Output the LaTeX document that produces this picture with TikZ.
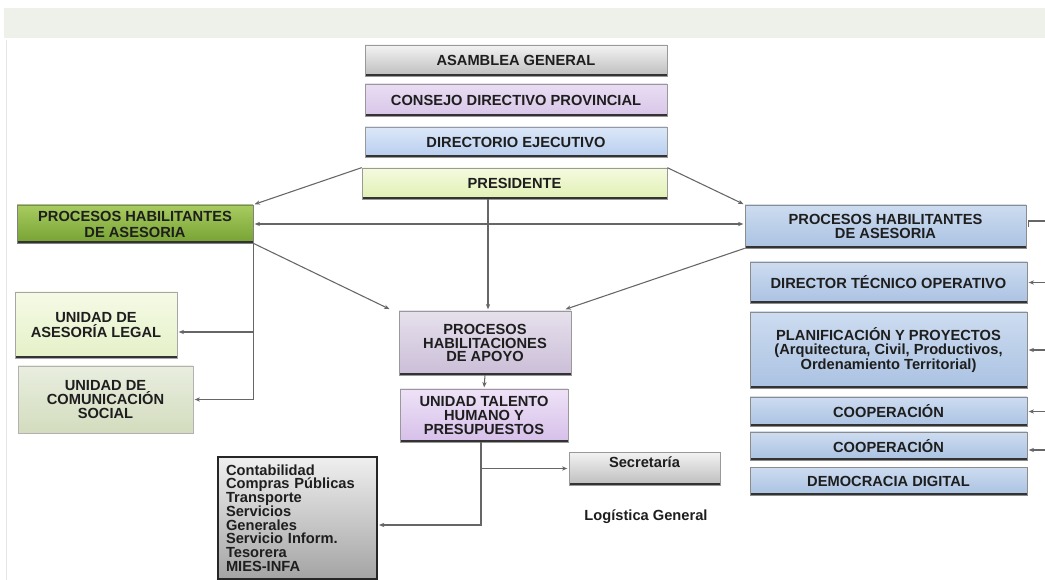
\documentclass[tikz,border=0pt]{standalone}
\usepackage{fontspec}
\setmainfont{Liberation Sans}
\usetikzlibrary{arrows.meta,calc}

\definecolor{band}{HTML}{EEF0EA}
\definecolor{ink}{HTML}{1E1E1E}
\definecolor{wire}{HTML}{666666}
\definecolor{grayT}{HTML}{F3F3F3}
\definecolor{grayB}{HTML}{BDBDBD}
\definecolor{lilaT}{HTML}{E9DDF3}
\definecolor{lilaB}{HTML}{D9C6E8}
\definecolor{skyT}{HTML}{DCE8F8}
\definecolor{skyB}{HTML}{B7CDEE}
\definecolor{limeT}{HTML}{F4FADF}
\definecolor{limeB}{HTML}{E1F0B3}
\definecolor{leafT}{HTML}{A8CB60}
\definecolor{leafB}{HTML}{76A233}
\definecolor{steelT}{HTML}{CDDCF0}
\definecolor{steelB}{HTML}{AAC2E2}
\definecolor{mauveT}{HTML}{E6E0EC}
\definecolor{mauveB}{HTML}{CBBED8}
\definecolor{violT}{HTML}{EEE2F7}
\definecolor{violB}{HTML}{D6BFE9}
\definecolor{paleT}{HTML}{F5FAE6}
\definecolor{paleB}{HTML}{E5F1C8}
\definecolor{sageT}{HTML}{E9EEDF}
\definecolor{sageB}{HTML}{D3DCBE}
\definecolor{listT}{HTML}{EFEFEF}
\definecolor{listB}{HTML}{A4A4A4}

\tikzset{
  org/.style={draw=black!40, line width=0.5pt, inner sep=1pt, align=center,
    text=ink, font=\bfseries\fontsize{11}{10.2}\selectfont,
    path picture={\draw[line width=2.6pt, black!80]
      (path picture bounding box.south west) -- (path picture bounding box.south east);}},
  sz/.style 2 args={minimum width=#1*0.75pt, minimum height=#2*0.75pt},
  grad/.style 2 args={top color=#1, bottom color=#2},
  graybox/.style={org, grad={grayT}{grayB}},
  bluebox/.style={org, draw=black!45, grad={steelT}{steelB}},
  link/.style={draw=wire, line width=0.8pt},
  arr/.style={link, -{Stealth[length=4pt,width=3.2pt]}, shorten >=1pt},
  darr/.style={link, {Stealth[length=4pt,width=3.2pt]}-{Stealth[length=4pt,width=3.2pt]}, shorten >=1pt, shorten <=1pt},
}

\begin{document}
\begin{tikzpicture}[x=0.75pt, y=-0.75pt]
\useasboundingbox (0,0) rectangle (1045,580);
\fill[white] (0,0) rectangle (1045,580);

% header strip and faint page edge
\fill[band] (4,8) rectangle (1045,38);
\draw[black!10, line width=0.6pt] (6,40) -- (6,580);

% governing bodies
\node[graybox, sz={302}{31}] (asamblea) at (516,60.5) {ASAMBLEA GENERAL};
\node[org, sz={302}{32}, grad={lilaT}{lilaB}] (consejo) at (516,100) {CONSEJO DIRECTIVO PROVINCIAL};
\node[org, sz={302}{30}, grad={skyT}{skyB}] (directorio) at (516,142) {DIRECTORIO EJECUTIVO};
\node[org, sz={305}{31}, grad={limeT}{limeB}] (presidente) at (514.5,183.5) {PRESIDENTE};

% advisory processes
\node[org, sz={236}{38}, draw=black!50, grad={leafT}{leafB},
      font=\bfseries\fontsize{11}{12}\selectfont] (leftproc) at (135,224)
      {PROCESOS HABILITANTES\\DE ASESORIA};
\node[bluebox, sz={281}{43}] (rightproc) at (885.5,226.5) {PROCESOS HABILITANTES\\DE ASESORIA};

% operative units (right column)
\node[bluebox, sz={277}{41}] (director) at (888.5,282.5) {DIRECTOR TÉCNICO OPERATIVO};
\node[bluebox, sz={277}{76}] (planif) at (888.5,350)
      {PLANIFICACIÓN Y PROYECTOS\\(Arquitectura, Civil, Productivos,\\Ordenamiento Territorial)};
\node[bluebox, sz={277}{29}] (coopa) at (888.5,411.5) {COOPERACIÓN};
\node[bluebox, sz={277}{28}] (coopb) at (888.5,446) {COOPERACIÓN};
\node[bluebox, sz={277}{28}] (democ) at (888.5,481) {DEMOCRACIA DIGITAL};

% support processes
\node[org, sz={172}{64}, grad={mauveT}{mauveB}] (apoyo) at (485,343)
      {PROCESOS\\HABILITACIONES\\DE APOYO};
\node[org, sz={168}{53}, grad={violT}{violB}] (talento) at (484,415.5)
      {UNIDAD TALENTO\\HUMANO Y\\PRESUPUESTOS};

% advisory units (left column)
\node[org, sz={162}{66}, draw=black!35, grad={paleT}{paleB},
      font=\bfseries\fontsize{11}{11.2}\selectfont] (legal) at (96,325)
      {UNIDAD DE\\ASESORÍA LEGAL};
\node[org, sz={175}{67}, draw=black!30, grad={sageT}{sageB},
      path picture={}] (comun) at (105.5,399.5)
      {UNIDAD DE\\COMUNICACIÓN\\SOCIAL};

% logistics
\node[draw=black!85, line width=1pt, sz={159}{122}, grad={listT}{listB},
      align=left, text width=143*0.75pt, inner sep=0pt, text=ink,
      font=\bfseries\fontsize{11}{10.3}\selectfont] (lista) at (297.5,518)
      {Contabilidad\\Compras Públicas\\Transporte\\Servicios\\Generales\\Servicio Inform.\\Tesorera\\MIES-INFA};
\node[graybox, sz={151}{33}, text height=8pt, text depth=10.2pt] (secretaria) at (644.5,468.5) {Secretaría};
\node[text=ink, font=\bfseries\fontsize{11}{12}\selectfont] (logistica) at (646,517) {Logística General};

% connectors from the president
\draw[arr] (presidente.north west) -- (leftproc.north east);
\draw[arr] (presidente.north east) -- (rightproc.north west);
\draw[darr] (leftproc.east) -- (leftproc.east -| rightproc.west);
\draw[arr] ($(presidente.south -| apoyo.north)+(3,0)$) -- ($(apoyo.north)+(3,0)$);
\draw[arr] (leftproc.south east) -- ($(apoyo.north west)+(-8,-1)$);
\draw[arr] (rightproc.south west) -- ($(apoyo.north east)+(-7,-1)$);

% advisory branch on the left
\draw[arr] (leftproc.south east) |- (comun.east);
\draw[arr] ($(leftproc.south east |- legal.east)+(0,7)$) -- ($(legal.east)+(0,7)$);

% support branch
\draw[arr] (apoyo.south) -- (talento.north);
\draw[arr] ($(talento.south)+(-3,0)$) |- ($(lista.east)+(0,7)$);
\draw[arr] ($(talento.south |- secretaria.west)+(-3,0)$) -- (secretaria.west);

% incoming lines on the right edge
\coordinate (rp) at (1045,221);
\coordinate (rd) at (1045,282.5);
\coordinate (rpl) at (1045,350);
\coordinate (rca) at (1045,411.5);
\coordinate (rcb) at (1045,450);
\draw[link] (rp) -| ($(rightproc.east)+(2,1)$);
\draw[arr] (rd) -- (director.east);
\draw[arr] (rpl) -- (planif.east);
\draw[arr] (rca) -- (coopa.east);
\draw[arr] (rcb) -- (rcb -| coopb.east);
\end{tikzpicture}
\end{document}
